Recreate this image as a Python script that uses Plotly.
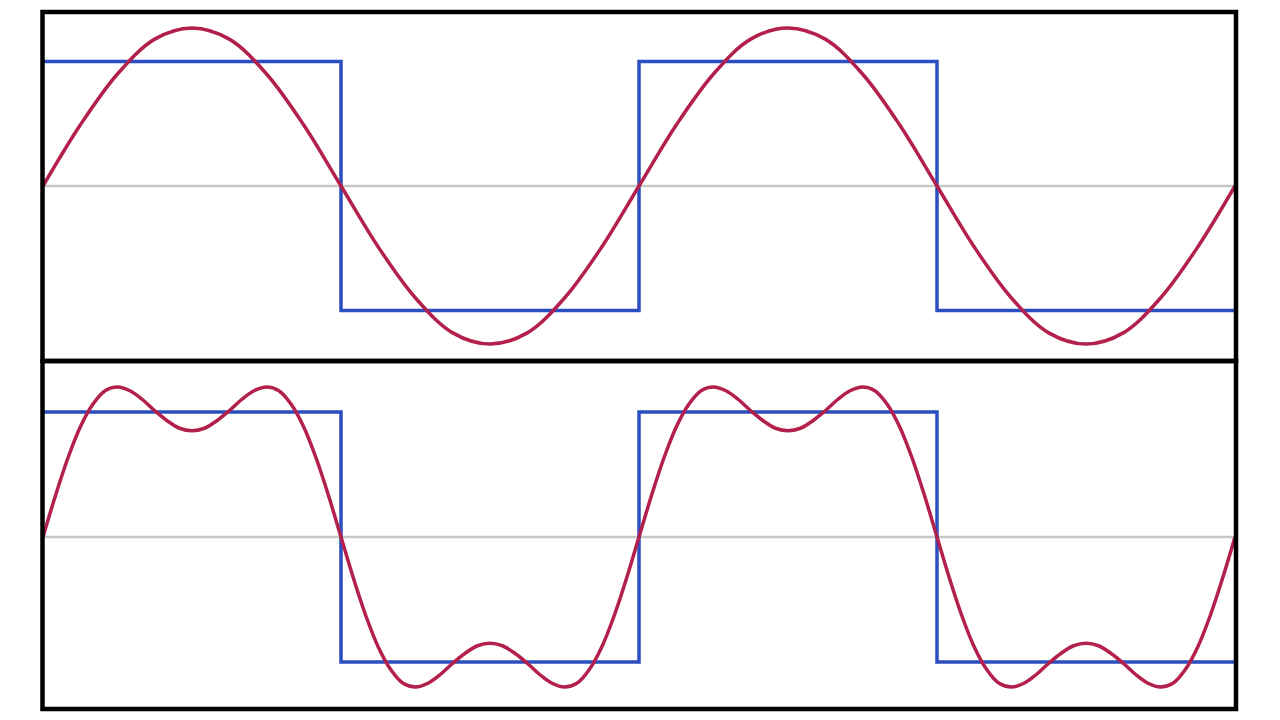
import plotly.graph_objects as go

# phase in units of pi
x_fund = [i / 8 for i in range(33)]
y_fund = [0, 0.49, 0.90, 1.18, 1.27, 1.18, 0.90, 0.49,
          0, -0.49, -0.90, -1.18, -1.27, -1.18, -0.90, -0.49,
          0, 0.49, 0.90, 1.18, 1.27, 1.18, 0.90, 0.49,
          0, -0.49, -0.90, -1.18, -1.27, -1.18, -0.90, -0.49,
          0]

x_sum = [i / 24 for i in range(97)]
y_sum = [0, 0.33, 0.63, 0.88, 1.06, 1.17, 1.20, 1.17, 1.10, 1.01, 0.93, 0.87,
         0.85, 0.87, 0.93, 1.01, 1.10, 1.17, 1.20, 1.17, 1.06, 0.88, 0.63, 0.33,
         0, -0.33, -0.63, -0.88, -1.06, -1.17, -1.20, -1.17, -1.10, -1.01, -0.93, -0.87,
         -0.85, -0.87, -0.93, -1.01, -1.10, -1.17, -1.20, -1.17, -1.06, -0.88, -0.63, -0.33,
         0, 0.33, 0.63, 0.88, 1.06, 1.17, 1.20, 1.17, 1.10, 1.01, 0.93, 0.87,
         0.85, 0.87, 0.93, 1.01, 1.10, 1.17, 1.20, 1.17, 1.06, 0.88, 0.63, 0.33,
         0, -0.33, -0.63, -0.88, -1.06, -1.17, -1.20, -1.17, -1.10, -1.01, -0.93, -0.87,
         -0.85, -0.87, -0.93, -1.01, -1.10, -1.17, -1.20, -1.17, -1.06, -0.88, -0.63, -0.33,
         0]

x_square = [0, 1, 2, 3, 4]
y_square = [1, -1, 1, -1, -1]

x_zero = [0, 4]
y_zero = [0, 0]

BLUE = "#2b4ec0"
RED = "#b3204b"
GRAY = "#c6c6c6"

fig = go.Figure()
for xa, ya, cx, cy in [("x", "y", x_fund, y_fund), ("x2", "y2", x_sum, y_sum)]:
    fig.add_trace(go.Scatter(x=x_zero, y=y_zero, mode="lines", line=dict(color=GRAY, width=2.5),
                             xaxis=xa, yaxis=ya, hoverinfo="skip"))
    fig.add_trace(go.Scatter(x=x_square, y=y_square, mode="lines", line=dict(color=BLUE, width=3.5, shape="hv"),
                             xaxis=xa, yaxis=ya))
    fig.add_trace(go.Scatter(x=cx, y=cy, mode="lines", line=dict(color=RED, width=3.5, shape="spline", smoothing=1.0),
                             xaxis=xa, yaxis=ya))

W, H = 1280, 720
x0, x1 = 43 / W, 1235 / W
top_dom = [1 - 361 / H, 1 - 12 / H]
bot_dom = [1 - 709 / H, 1 - 361 / H]

ax = dict(showgrid=False, zeroline=False, showticklabels=False, ticks="", showline=False, fixedrange=True)
fig.update_layout(
    width=W, height=H, autosize=False,
    margin=dict(l=0, r=0, t=0, b=0),
    paper_bgcolor="white", plot_bgcolor="white",
    showlegend=False,
    xaxis=dict(ax, domain=[x0, x1], range=[0, 4], anchor="y"),
    yaxis=dict(ax, domain=top_dom, range=[-1.406, 1.398], anchor="x"),
    xaxis2=dict(ax, domain=[x0, x1], range=[0, 4], anchor="y2"),
    yaxis2=dict(ax, domain=bot_dom, range=[-1.376, 1.408], anchor="x2"),
)

for dom in (top_dom, bot_dom):
    fig.add_shape(type="rect", xref="paper", yref="paper",
                  x0=42.5 / W, x1=1236 / W, y0=dom[0], y1=dom[1],
                  line=dict(color="black", width=4.5), fillcolor="rgba(0,0,0,0)", layer="above")

fig.write_html("out.html", config={"displayModeBar": False},
               post_script="document.body.style.margin='0';document.body.style.overflow='hidden';")
